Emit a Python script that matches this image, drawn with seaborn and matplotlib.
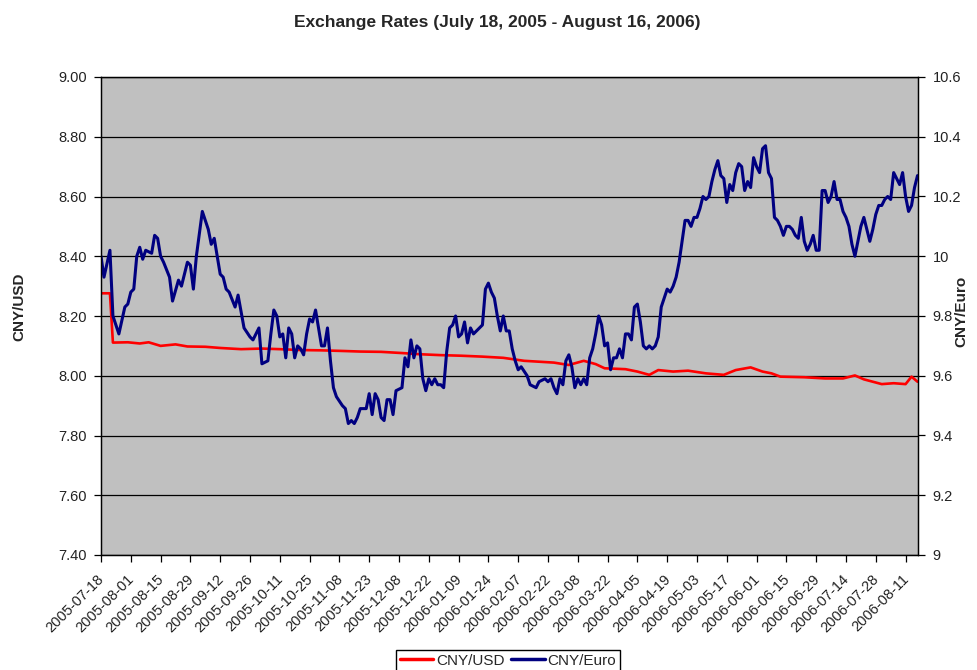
import matplotlib
matplotlib.use("Agg")
import matplotlib.pyplot as plt
from matplotlib.ticker import FuncFormatter, MultipleLocator
from matplotlib.transforms import ScaledTranslation
from matplotlib.lines import Line2D
import seaborn as sns
import pandas as pd

# business-day index (0 = 2005-07-18) and values
usd_idx = [0, 3, 4, 9, 13, 16, 20, 25, 29, 35, 40, 47, 54, 60, 67, 74, 81, 87, 94, 101,
           107, 114, 121, 128, 135, 142, 147, 152, 157, 162, 166, 169, 176, 180, 184, 187,
           192, 197, 203, 209, 213, 218, 222, 225, 228, 236, 243, 249, 253, 256, 262, 266,
           270, 272, 274]
usd_val = [8.276, 8.276, 8.111, 8.112, 8.108, 8.112, 8.100, 8.105, 8.098, 8.097, 8.093,
           8.089, 8.091, 8.089, 8.086, 8.085, 8.083, 8.081, 8.080, 8.076, 8.072, 8.069,
           8.067, 8.064, 8.060, 8.050, 8.047, 8.044, 8.036, 8.050, 8.039, 8.025, 8.022,
           8.014, 8.003, 8.019, 8.014, 8.017, 8.008, 8.003, 8.019, 8.028, 8.014, 8.008,
           7.997, 7.995, 7.991, 7.991, 8.001, 7.988, 7.972, 7.975, 7.972, 7.997, 7.980]

euro_idx = [0, 1, 3, 4, 6, 8, 9, 10, 11, 12, 13, 14, 15, 17, 18, 19, 20, 21, 23, 24, 26,
            27, 28, 29, 30, 31, 32, 34, 36, 37, 38, 40, 41, 42, 43, 45, 46,
            48, 50, 51, 53, 54, 56, 57, 58, 59, 60, 61, 62, 63, 64, 65, 66, 67, 68, 69,
            70, 71, 72, 73, 74, 75, 76, 77, 78, 79, 81, 82, 83, 84, 85, 86, 87, 88, 89,
            90, 91, 92, 93, 94, 95, 96, 97, 98, 99, 101, 102, 103, 104, 105, 106, 107,
            108, 109, 110, 111, 112, 113, 114, 115, 116, 117, 118, 119, 120, 121, 122,
            123, 124, 125, 126, 127, 128, 129, 130, 131, 132, 133, 134, 135, 136, 137,
            138, 139, 140, 141, 143, 144, 146, 147, 149, 150, 151, 152, 153, 154, 155,
            156, 157, 158, 159, 160, 161, 162, 163, 164, 165, 166, 167, 168, 169, 170,
            171, 172, 173, 174, 175, 176, 177, 178, 179, 180, 181, 182, 183, 184, 185,
            186, 187, 188, 189, 190, 191, 192, 193, 194, 195, 196, 197, 198, 199, 200,
            201, 202, 203, 204, 205, 206, 207, 208, 209, 210, 211, 212, 213, 214, 215,
            216, 217, 218, 219, 220, 221, 222, 223, 224, 225, 226, 227, 228, 229, 230,
            231, 232, 233, 234, 235, 236, 237, 238, 239, 240, 241, 242, 243, 244, 245,
            246, 247, 248, 249, 250, 251, 252, 253, 254, 255, 256, 257, 258, 259, 260,
            261, 262, 263, 264, 265, 266, 267, 268, 269, 270, 271, 272, 273, 274]
euro_val = [10.00, 9.93, 10.02, 9.80, 9.74, 9.83, 9.84, 9.88, 9.89, 10.00, 10.03, 9.99,
            10.02, 10.01, 10.07, 10.06, 10.00, 9.98, 9.93, 9.85, 9.92, 9.90, 9.94, 9.98,
            9.97, 9.89, 10.00, 10.15, 10.09, 10.04, 10.06, 9.94, 9.93, 9.89, 9.88, 9.83,
            9.87,
            9.76, 9.73, 9.72, 9.76, 9.64, 9.65, 9.74, 9.82, 9.80, 9.73, 9.74, 9.66, 9.76,
            9.74, 9.66, 9.70, 9.69, 9.67, 9.74, 9.79, 9.78, 9.82, 9.76, 9.70, 9.70, 9.76,
            9.65, 9.56, 9.53, 9.50, 9.49, 9.44, 9.45, 9.44, 9.46, 9.49, 9.49, 9.49, 9.54,
            9.47,
            9.54, 9.52, 9.46, 9.45, 9.52, 9.52, 9.47, 9.55, 9.56, 9.66, 9.63, 9.72, 9.66,
            9.70, 9.69, 9.59, 9.55, 9.59, 9.57, 9.59, 9.57, 9.57, 9.56, 9.68, 9.76, 9.77,
            9.80, 9.73, 9.74, 9.78, 9.71, 9.76, 9.74, 9.75, 9.76, 9.77, 9.89, 9.91, 9.88,
            9.86, 9.80, 9.75, 9.80, 9.75, 9.75, 9.69, 9.65, 9.62,
            9.63, 9.60, 9.57, 9.56, 9.58, 9.59, 9.58, 9.59, 9.56, 9.54, 9.59, 9.57, 9.65,
            9.67, 9.63, 9.56, 9.59, 9.57, 9.59, 9.57, 9.66, 9.69, 9.74, 9.80, 9.77, 9.70,
            9.71, 9.62, 9.66, 9.66, 9.69, 9.66, 9.74, 9.74, 9.72, 9.83, 9.84, 9.78, 9.70,
            9.69, 9.70, 9.69, 9.70, 9.73, 9.83,
            9.86, 9.89, 9.88, 9.90, 9.93, 9.98, 10.05, 10.12, 10.12, 10.10, 10.13, 10.13,
            10.16, 10.20, 10.19, 10.20, 10.25, 10.29, 10.32, 10.27, 10.26, 10.18, 10.24,
            10.22, 10.28, 10.31, 10.30, 10.22, 10.25, 10.23, 10.33, 10.30, 10.28, 10.36,
            10.37, 10.28, 10.26, 10.13, 10.12, 10.10, 10.07, 10.10, 10.10, 10.09,
            10.07, 10.06, 10.13, 10.05, 10.02, 10.04, 10.07, 10.02, 10.02, 10.22, 10.22,
            10.18, 10.20, 10.25, 10.19, 10.19, 10.15, 10.13, 10.10, 10.04, 10.00, 10.05,
            10.10, 10.13, 10.09, 10.05, 10.09, 10.14, 10.17, 10.17, 10.19, 10.20, 10.19,
            10.28, 10.26, 10.24, 10.28, 10.20, 10.15, 10.17, 10.23, 10.27]

tick_labels = ['2005-07-18', '2005-08-01', '2005-08-15', '2005-08-29', '2005-09-12',
               '2005-09-26', '2005-10-11', '2005-10-25', '2005-11-08', '2005-11-23',
               '2005-12-08', '2005-12-22', '2006-01-09', '2006-01-24', '2006-02-07',
               '2006-02-22', '2006-03-08', '2006-03-22', '2006-04-05', '2006-04-19',
               '2006-05-03', '2006-05-17', '2006-06-01', '2006-06-15', '2006-06-29',
               '2006-07-14', '2006-07-28', '2006-08-11']

sns.set_style("white")
plt.rcParams['font.family'] = ['Liberation Sans', 'DejaVu Sans']

usd = pd.DataFrame({'day': usd_idx, 'rate': usd_val})
euro = pd.DataFrame({'day': euro_idx, 'rate': euro_val})

fig = plt.figure(figsize=(9.78, 6.70), dpi=100)
ax = fig.add_axes([101 / 978, 1 - 555 / 670, 816.5 / 978, 478 / 670])
ax.set_facecolor('#C0C0C0')

sns.lineplot(data=usd, x='day', y='rate', ax=ax, color='#FF0000', linewidth=1.9)
ax2 = ax.twinx()
sns.lineplot(data=euro, x='day', y='rate', ax=ax2, color='#000080', linewidth=2.2)

ax.set_xlim(0, 274)
ax.set_ylim(7.4, 9.0)
ax2.set_ylim(9.0, 10.6)
ax.yaxis.set_major_locator(MultipleLocator(0.2))
ax2.yaxis.set_major_locator(MultipleLocator(0.2))
ax.yaxis.set_major_formatter(FuncFormatter(lambda v, p: f"{v:.2f}"))
ax2.yaxis.set_major_formatter(FuncFormatter(lambda v, p: f"{round(v, 1):g}"))

ax.yaxis.grid(True, color='black', linewidth=0.9)
ax.xaxis.grid(False)
ax2.grid(False)

ax.set_xticks(range(0, 271, 10))
ax.set_xticklabels(tick_labels, rotation=45, ha='right', rotation_mode='anchor')

for a in (ax, ax2):
    for s in a.spines.values():
        s.set_color('black')
        s.set_linewidth(0.9)
    a.tick_params(axis='both', direction='out', length=5, width=0.9, color='black',
                  labelsize=10.5, labelcolor='#222222')
ax.tick_params(axis='x', bottom=True, pad=5)
ax.tick_params(axis='y', left=True, pad=5)
ax2.tick_params(axis='y', right=True, pad=6)

# nudge the slanted date labels a little left/down, as in the original
shift = ScaledTranslation(-0.04, -0.03, fig.dpi_scale_trans)
for lbl in ax.get_xticklabels():
    lbl.set_transform(lbl.get_transform() + shift)

ax.set_xlabel('')
ax.set_ylabel('CNY/USD', fontsize=11, fontweight='bold')
ax2.set_ylabel('CNY/Euro', fontsize=11, fontweight='bold')
ax.yaxis.set_label_coords(-0.092, 0.52)
ax2.yaxis.set_label_coords(1.045, 0.51)

fig.text(497 / 978, 1 - 22 / 670, 'Exchange Rates (July 18, 2005 - August 16, 2006)',
         ha='center', va='center', fontsize=12.5, fontweight='bold')

handles = [Line2D([], [], color='#FF0000', linewidth=2.5),
           Line2D([], [], color='#000080', linewidth=2.5)]
fig.legend(handles, ['CNY/USD', 'CNY/Euro'], loc='upper center',
           bbox_to_anchor=(508 / 978, 1 - 650 / 670), ncol=2, frameon=True,
           fancybox=False, edgecolor='black', framealpha=1, fontsize=11,
           handlelength=2.2, handletextpad=0.2, columnspacing=0.4,
           borderpad=0.25, borderaxespad=0)

fig.savefig('out.png', dpi=100)
